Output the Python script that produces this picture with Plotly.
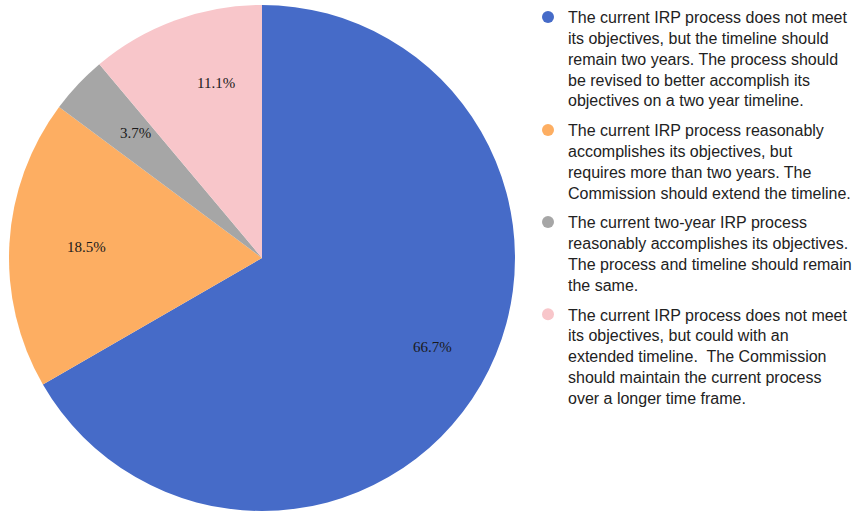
import math
import plotly.graph_objects as go

labels = [
    "The current IRP process does not meet<br>its objectives, but the timeline should<br>remain two years. The process should<br>be revised to better accomplish its<br>objectives on a two year timeline.",
    "The current IRP process reasonably<br>accomplishes its objectives, but<br>requires more than two years. The<br>Commission should extend the timeline.",
    "The current two-year IRP process<br>reasonably accomplishes its objectives.<br>The process and timeline should remain<br>the same.",
    "The current IRP process does not meet<br>its objectives, but could with an<br>extended timeline.  The Commission<br>should maintain the current process<br>over a longer time frame.",
]
counts = [18, 5, 1, 3]
colors = ["#466BC8", "#FDAE62", "#A6A6A6", "#F8C6CA"]

W, H = 864, 513
# pie geometry in figure pixels
CX, CY, R = 262, 258, 253
LABEL_R = 0.78

fig = go.Figure()
fig.add_trace(go.Pie(
    labels=labels, values=counts, sort=False, direction="clockwise", rotation=0,
    marker=dict(colors=colors, line=dict(width=0)),
    textinfo="none",
    domain=dict(x=[(CX - R) / W, (CX + R) / W], y=[1 - (CY + R) / H, 1 - (CY - R) / H]),
    showlegend=False, hoverinfo="label+percent",
))

total = sum(counts)
cum = 0.0
for v in counts:
    mid = (cum + v / 2) / total * 2 * math.pi
    cum += v
    px = CX + LABEL_R * R * math.sin(mid)
    py = CY - LABEL_R * R * math.cos(mid)
    fig.add_annotation(
        x=px / W, y=1 - py / H, xref="paper", yref="paper",
        text=f"{v / total * 100:.1f}%", showarrow=False,
        font=dict(family="Liberation Serif", size=15, color="#1a1a1a"),
    )

for lab, col in zip(labels, colors):
    fig.add_trace(go.Scatter(
        x=[None], y=[None], mode="markers", name=lab,
        marker=dict(symbol="circle", size=12, color=col),
        legendgroup=lab, showlegend=True,
    ))

fig.update_layout(
    width=W, height=H, margin=dict(l=0, r=0, t=0, b=0),
    paper_bgcolor="white", plot_bgcolor="white",
    xaxis=dict(visible=False), yaxis=dict(visible=False),
    legend=dict(
        x=528 / W, xanchor="left", y=1, yanchor="top",
        font=dict(family="Liberation Sans", size=16, color="#222222"),
        traceorder="grouped", tracegroupgap=6, itemsizing="constant",
        valign="top", bgcolor="rgba(0,0,0,0)",
    ),
)
fig.write_html("out.html", config={"displayModeBar": False},
               post_script="document.body.style.margin='0';")
